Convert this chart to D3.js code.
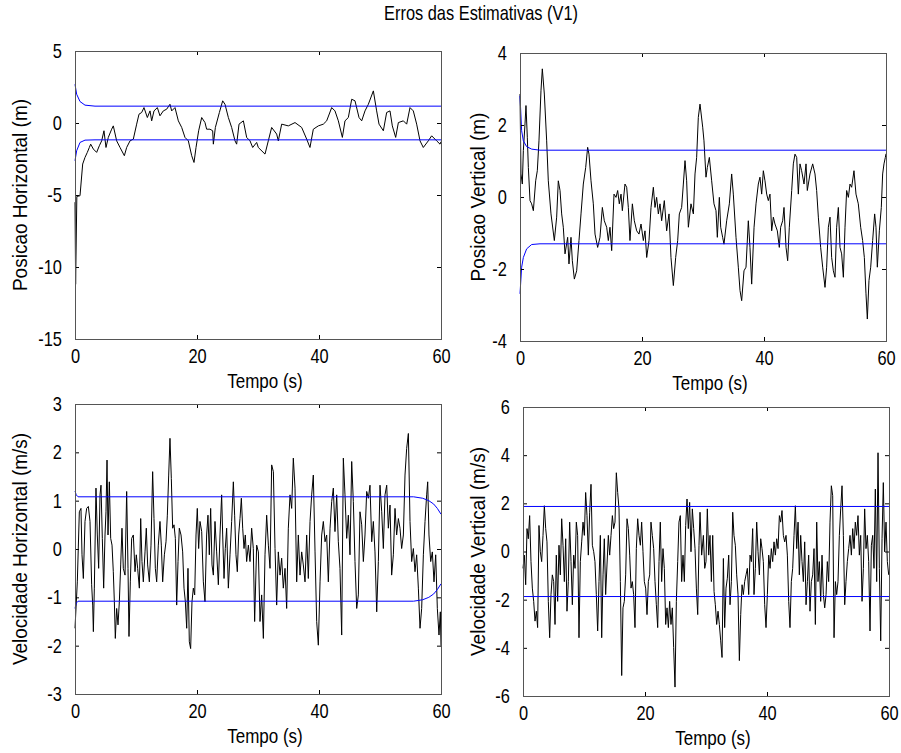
<!DOCTYPE html>
<html><head><meta charset="utf-8">
<script src="https://cdn.jsdelivr.net/npm/d3@7"></script>
<style>body{margin:0;background:#fff} svg{display:block}</style>
</head><body><svg id="c" width="901" height="753"></svg>
<script>
const chartTitle = "Erros das Estimativas (V1)";
const xLabel = "Tempo (s)";
const xTicks = [0, 20, 40, 60];
const yLabels = ["Posicao Horizontal (m)", "Posicao Vertical (m)", "Velocidade Horizontal (m/s)", "Velocidade Vertical (m/s)"];
const yTicksPosH = [-15, -10, -5, 0, 5];
const yTicksPosV = [-4, -2, 0, 2, 4];
const yTicksVelH = [-3, -2, -1, 0, 1, 2, 3];
const yTicksVelV = [-6, -4, -2, 0, 2, 4, 6];

// [time (s), error]
const posHoriz = [[0,-5.5],[0.1,-11.2],[0.3,-5.1],[0.82,-5.05],[1.26,-2.85],[1.64,-2.39],[2.02,-2.04],[2.35,-1.70],[2.57,-1.47],[3.01,-1.81],[3.55,-2.04],[3.99,-1.58],[4.37,-1.24],[4.75,-0.54],[5.08,-1.70],[5.46,-1.0],[6.01,-0.43],[6.28,-0.2],[6.83,-1.24],[7.38,-1.70],[8.09,-2.27],[8.47,-1.70],[9.02,-1.24],[9.56,-1.12],[10.11,-0.08],[10.49,0.61],[10.93,0.73],[11.31,1.07],[11.86,0.38],[12.30,0.84],[12.57,0.15],[12.95,0.84],[13.50,1.07],[13.93,0.50],[14.48,0.84],[15.03,0.96],[15.57,1.30],[15.85,0.84],[16.39,1.07],[16.94,0.15],[17.49,-0.31],[18.03,-1.0],[18.58,-1.24],[19.13,-2.27],[19.51,-2.74],[19.84,-1.70],[20.27,-0.54],[20.77,0.38],[21.31,0.03],[21.58,-0.43],[22.13,-0.43],[22.57,-0.54],[22.68,-1.47],[23.01,-0.31],[23.67,0.73],[24.21,1.54],[24.59,1.30],[25.14,0.38],[25.68,-0.31],[26.23,-1.24],[26.50,-1.47],[26.89,-0.08],[27.60,0.15],[28.14,-1.0],[28.69,-1.24],[29.13,-1.70],[29.78,-1.35],[30.05,-1.70],[31.15,-2.16],[31.69,-1.24],[32.24,-0.31],[33.06,-0.77],[33.33,-1.24],[33.88,-0.08],[34.97,-0.2],[36.07,0.03],[37.16,-0.31],[37.98,-1.12],[38.52,-1.70],[39.07,-0.43],[39.89,-0.2],[40.71,-0.08],[41.26,0.15],[42.08,1.07],[42.62,0.84],[43.17,0.15],[43.83,-1.0],[44.26,0.15],[44.81,0.38],[45.36,1.65],[45.90,1.54],[46.56,0.38],[47.00,0.15],[47.54,0.84],[48.09,1.30],[48.91,2.23],[49.45,0.84],[49.84,-0.08],[50.55,-0.54],[51.09,0.73],[51.64,0.84],[52.02,-0.2],[52.57,-1.0],[53.01,0.03],[53.83,0.15],[54.37,-0.08],[54.92,1.07],[55.46,0.84],[56.01,-0.08],[56.56,-1.24],[57.10,-1.70],[57.92,-1.24],[58.47,-0.89],[59.29,-1.24],[59.84,-1.47],[60,-1.3]];
const posHorizUpper = [[0,2.69],[0.27,2.0],[0.82,1.49],[1.64,1.24],[3.28,1.17],[60,1.17]];
const posHorizLower = [[0,-2.62],[0.27,-1.93],[0.82,-1.35],[1.64,-1.19],[3.28,-1.17],[60,-1.17]];

const posVert = [[0,2.86],[0.16,0.64],[0.38,0.36],[0.55,1.29],[0.82,2.03],[0.98,2.54],[1.20,1.66],[1.37,0.82],[1.64,-0.10],[1.91,-0.19],[2.19,-0.38],[2.57,0.45],[2.84,0.73],[3.11,1.56],[3.44,2.95],[3.66,3.56],[3.99,2.86],[4.37,1.56],[4.64,0.45],[5.08,-0.47],[5.63,-1.21],[6.01,-0.56],[6.28,0.45],[6.56,0.18],[6.83,-0.47],[7.10,-0.84],[7.38,-1.58],[7.81,-1.12],[8.03,-1.86],[8.36,-1.12],[8.58,-1.77],[8.91,-2.28],[9.29,-2.05],[9.67,-1.21],[10.0,-0.47],[10.38,0.36],[10.77,0.82],[11.09,1.38],[11.31,1.19],[11.64,0.45],[12.02,-0.19],[12.30,-1.03],[12.73,-1.40],[13.11,-1.12],[13.50,-0.29],[13.82,-0.66],[14.21,-0.84],[14.48,-1.21],[14.75,-0.84],[15.03,-1.49],[15.41,0.08],[15.74,-0.01],[16.01,0.18],[16.28,-0.19],[16.56,0.08],[16.78,-0.38],[17.21,0.36],[17.49,0.27],[17.76,-0.29],[18.03,-1.21],[18.42,-0.19],[18.74,-0.66],[19.13,-0.94],[19.51,-1.03],[19.84,-0.75],[20.22,-1.21],[20.49,-0.94],[20.77,-1.68],[21.15,-1.21],[21.48,-0.29],[21.86,0.27],[22.13,-0.29],[22.40,-0.01],[22.68,-0.47],[22.95,-0.19],[23.22,-0.66],[23.66,-0.10],[24.04,-0.94],[24.43,-0.47],[24.75,-1.68],[25.14,-2.46],[25.52,-1.68],[25.85,-1.21],[26.12,-0.47],[26.50,-0.29],[26.78,0.36],[27.05,1.01],[27.32,0.45],[27.60,-0.84],[28.03,-0.19],[28.42,-0.47],[28.69,0.64],[28.96,1.10],[29.23,2.21],[29.51,2.58],[29.95,1.94],[30.16,1.56],[30.49,0.55],[30.71,0.82],[31.04,1.10],[31.42,0.45],[31.80,-0.19],[32.13,-0.38],[32.35,-1.12],[32.68,-0.01],[32.90,-0.84],[33.22,-1.12],[33.44,-1.31],[33.88,-0.66],[34.32,-0.19],[34.70,0.64],[34.97,0.08],[35.41,-1.12],[35.79,-1.95],[36.07,-2.60],[36.34,-2.88],[36.72,-2.05],[37.05,-1.95],[37.43,-0.66],[37.70,-1.40],[37.98,-2.42],[38.37,-0.84],[38.69,-0.19],[39.07,0.36],[39.34,0.55],[39.62,0.08],[39.89,0.73],[40.16,0.45],[40.44,0.08],[40.71,-0.10],[40.98,0.08],[41.26,-0.94],[41.53,-0.56],[41.80,-0.75],[42.19,-0.94],[42.51,-1.40],[42.73,-0.84],[43.06,-0.66],[43.28,-0.29],[43.61,-1.40],[43.88,-1.77],[44.15,-0.84],[44.54,0.18],[44.81,0.92],[45.08,1.19],[45.36,1.10],[45.63,0.08],[45.90,0.92],[46.17,0.73],[46.56,0.36],[46.89,0.92],[47.10,0.18],[47.54,0.64],[47.98,0.92],[48.36,0.64],[48.63,0.18],[48.91,-0.56],[49.29,-1.40],[49.62,-1.95],[50.00,-2.51],[50.27,-1.95],[50.55,-0.84],[50.82,-0.56],[51.09,-1.68],[51.37,-2.05],[51.64,-2.23],[51.91,-0.84],[52.19,-0.29],[52.46,-1.40],[52.73,-1.58],[53.01,-2.23],[53.28,-0.84],[53.55,0.18],[53.83,-0.01],[54.10,0.36],[54.37,0.27],[54.75,0.73],[55.08,0.08],[55.46,-0.19],[55.85,-0.84],[56.17,-1.21],[56.45,-1.68],[56.72,-2.69],[56.94,-3.39],[57.21,-2.32],[57.49,-1.95],[57.81,-1.21],[58.14,-0.47],[58.36,-0.84],[58.58,-1.95],[58.91,-0.94],[59.23,-0.29],[59.45,0.64],[59.67,0.92],[59.89,1.10],[60,1.2]];
const posVertUpper = [[0,2.81],[0.27,1.84],[0.55,1.56],[1.09,1.40],[1.91,1.33],[3.28,1.30],[60,1.30]];
const posVertLower = [[0,-2.69],[0.27,-1.95],[0.55,-1.68],[1.09,-1.44],[1.91,-1.32],[3.28,-1.30],[60,-1.30]];

const velHoriz = [[0,-1.64],[0.38,-0.68],[0.71,0.77],[0.98,0.84],[1.15,-0.12],[1.37,-0.61],[1.64,0.57],[1.91,0.84],[2.19,0.88],[2.46,0.57],[2.73,-0.74],[2.90,-1.16],[3.01,-1.71],[3.17,-0.81],[3.44,1.26],[3.66,0.29],[3.88,-0.40],[4.10,1.12],[4.26,1.32],[4.48,0.22],[4.70,-0.81],[4.92,0.29],[5.08,0.77],[5.25,1.84],[5.41,0.29],[5.63,1.39],[5.85,0.22],[6.07,0.08],[6.28,-0.47],[6.45,-1.09],[6.61,-1.85],[6.83,-1.23],[7.05,-1.57],[7.27,-1.09],[7.49,-0.33],[7.70,0.43],[7.92,-0.40],[8.20,-0.54],[8.47,1.19],[8.69,-0.40],[8.85,-1.81],[9.07,-0.68],[9.29,0.22],[9.56,0.29],[9.84,-0.47],[10.05,-0.12],[10.27,-0.40],[10.55,-0.81],[10.77,0.63],[10.98,-0.26],[11.20,-0.68],[11.48,-0.06],[11.69,0.43],[11.91,-0.33],[12.19,-0.68],[12.46,0.08],[12.73,1.60],[12.95,0.63],[13.17,-0.40],[13.39,-0.68],[13.66,0.08],[13.93,0.57],[14.15,0.08],[14.37,-0.68],[14.65,-0.12],[14.92,0.15],[15.14,0.70],[15.36,1.53],[15.57,2.29],[15.79,1.46],[16.01,0.43],[16.23,0.50],[16.45,0.22],[16.67,-1.16],[16.89,-0.26],[17.10,0.43],[17.38,0.29],[17.65,-0.06],[17.87,-0.81],[18.09,-1.09],[18.31,-1.64],[18.52,-0.40],[18.74,-1.92],[18.96,-2.06],[19.18,-1.09],[19.40,-0.81],[19.62,-0.95],[19.84,0.29],[20.05,0.84],[20.27,0.01],[20.49,0.57],[20.77,0.36],[21.04,-0.68],[21.31,-1.09],[21.58,0.29],[21.80,0.70],[22.02,-0.12],[22.24,0.84],[22.46,-0.33],[22.68,-0.54],[22.95,0.57],[23.22,-0.06],[23.50,-0.74],[23.77,0.29],[24.04,1.12],[24.21,0.29],[24.43,-0.61],[24.64,0.01],[24.86,0.43],[25.14,-0.81],[25.41,-0.12],[25.68,0.57],[25.96,1.39],[26.17,0.70],[26.39,-0.12],[26.61,-0.47],[26.83,0.29],[27.05,0.63],[27.27,1.05],[27.49,0.43],[27.71,0.01],[27.92,0.29],[28.14,-0.26],[28.42,0.08],[28.69,-0.26],[28.96,0.43],[29.23,0.01],[29.45,-1.50],[29.78,0.08],[30.06,-0.06],[30.33,-1.50],[30.60,-0.95],[30.88,-1.85],[31.15,-0.12],[31.42,0.70],[31.70,0.08],[31.97,-0.40],[32.24,1.74],[32.52,1.60],[32.79,0.01],[33.06,-1.16],[33.33,-0.06],[33.61,-0.54],[33.88,-0.19],[34.15,-0.81],[34.43,-0.40],[34.70,-1.23],[34.97,0.43],[35.25,1.12],[35.52,0.84],[35.79,1.88],[36.07,1.26],[36.34,-0.68],[36.61,0.29],[36.89,-0.54],[37.16,-0.06],[37.43,-0.33],[37.71,-0.68],[37.98,0.29],[38.25,-0.61],[38.53,0.57],[38.80,1.12],[39.07,1.53],[39.35,-0.06],[39.62,-1.50],[39.89,-1.99],[40.17,-0.68],[40.44,0.29],[40.71,0.57],[40.99,0.15],[41.26,0.29],[41.53,-0.68],[41.81,0.43],[42.08,0.98],[42.35,1.26],[42.62,0.36],[42.90,1.12],[43.17,0.15],[43.44,-0.40],[43.72,-1.78],[43.99,1.88],[44.26,1.12],[44.54,0.22],[44.81,0.70],[45.08,-0.12],[45.36,1.81],[45.63,0.98],[45.90,-0.26],[46.18,-1.23],[46.45,-0.95],[46.72,0.77],[47.00,0.50],[47.27,-0.26],[47.54,0.29],[47.82,1.19],[48.09,1.05],[48.36,1.32],[48.64,0.15],[48.91,0.57],[49.18,-0.06],[49.46,-1.30],[49.73,-0.26],[50.00,1.32],[50.28,0.77],[50.55,0.01],[50.82,1.12],[51.10,1.32],[51.37,0.43],[51.64,0.91],[51.91,-0.54],[52.19,-0.12],[52.46,0.84],[52.73,0.29],[53.01,0.63],[53.28,0.43],[53.55,0.01],[53.83,0.29],[54.10,1.53],[54.37,2.08],[54.65,2.39],[54.92,0.57],[55.19,-0.26],[55.47,0.01],[55.74,-0.47],[56.01,-0.12],[56.29,-0.81],[56.56,-1.64],[56.83,-1.23],[57.11,-0.12],[57.38,0.57],[57.65,1.12],[57.82,1.39],[58.03,0.29],[58.31,-0.26],[58.58,-0.06],[58.85,-0.68],[59.13,-0.12],[59.40,-1.23],[59.67,-1.78],[59.89,-1.30],[60,-2.0]];
const velHorizUpper = [[0,1.20],[0.2,1.12],[0.5,1.08],[55.5,1.08],[57,1.05],[58,1.0],[58.8,0.93],[59.4,0.84],[60,0.72]];
const velHorizLower = [[0,-1.23],[0.2,-1.12],[0.5,-1.08],[55.5,-1.08],[57,-1.05],[58,-1.0],[58.8,-0.93],[59.4,-0.84],[60,-0.72]];

const velVert = [[0,-0.70],[0.22,-0.15],[0.44,-1.38],[0.66,0.95],[0.87,0.53],[1.09,1.49],[1.31,-0.42],[1.53,-1.52],[1.75,-2.07],[1.97,-2.89],[2.19,-2.48],[2.40,-3.16],[2.62,1.08],[2.84,-0.01],[3.06,-0.42],[3.28,0.67],[3.50,1.90],[3.72,0.95],[3.93,0.40],[4.15,-2.07],[4.37,-3.58],[4.59,-1.79],[4.81,-0.97],[5.03,-1.25],[5.25,-3.03],[5.46,-0.15],[5.68,-2.07],[5.90,0.26],[6.12,-0.97],[6.34,1.36],[6.56,0.26],[6.78,-1.25],[7.00,0.53],[7.21,-2.48],[7.43,-1.25],[7.65,1.22],[7.87,-0.42],[8.09,-2.21],[8.31,-0.15],[8.53,-0.70],[8.74,1.22],[8.96,0.67],[9.18,-3.58],[9.40,-0.42],[9.62,0.40],[9.84,1.22],[10.06,0.67],[10.27,2.45],[10.49,1.49],[10.71,-0.15],[10.93,1.63],[11.15,2.79],[11.37,0.26],[11.59,-0.01],[11.80,-0.42],[12.02,-1.79],[12.24,-3.30],[12.46,-1.25],[12.68,0.67],[12.90,-3.58],[13.12,-0.97],[13.33,0.53],[13.55,-1.79],[13.77,-0.56],[13.99,0.67],[14.21,-0.15],[14.43,0.67],[14.65,1.49],[14.86,0.95],[15.08,1.22],[15.30,3.27],[15.52,2.45],[15.74,1.77],[15.96,-1.25],[16.18,-5.15],[16.39,-2.34],[16.61,-2.07],[16.83,-0.97],[17.05,1.36],[17.27,0.95],[17.49,-0.15],[17.71,-1.52],[17.92,-1.25],[18.14,-1.79],[18.36,-3.16],[18.58,0.12],[18.80,1.36],[19.02,0.67],[19.24,0.26],[19.45,1.22],[19.67,-0.01],[19.89,-1.25],[20.11,-1.52],[20.33,-2.62],[20.55,-1.25],[20.77,-0.97],[20.98,1.22],[21.20,0.67],[21.42,0.12],[21.64,-1.25],[21.86,-2.21],[22.08,-3.16],[22.30,-0.42],[22.51,1.22],[22.73,-1.25],[22.95,0.12],[23.17,-0.70],[23.39,-3.03],[23.61,-2.34],[23.83,-3.16],[24.04,-2.07],[24.26,-3.03],[24.48,-2.34],[24.70,-3.99],[24.92,-5.63],[25.14,-2.07],[25.36,-0.42],[25.57,1.22],[25.79,1.49],[26.01,-1.25],[26.23,-0.15],[26.45,-1.25],[26.67,1.08],[26.89,2.18],[27.10,0.95],[27.32,2.04],[27.54,-0.01],[27.76,1.77],[27.98,0.95],[28.20,0.12],[28.42,-1.52],[28.64,-2.62],[28.85,0.26],[29.02,1.63],[29.29,-0.15],[29.57,0.67],[29.79,-0.70],[30.00,-0.42],[30.22,1.77],[30.44,-0.15],[30.66,0.67],[30.88,-1.25],[31.10,0.67],[31.32,-1.66],[31.53,-2.21],[31.75,-3.03],[31.97,-2.48],[32.19,-3.03],[32.41,-3.71],[32.63,-4.40],[32.85,-0.29],[33.06,-3.16],[33.28,-1.52],[33.50,-1.11],[33.72,-0.15],[33.94,-2.21],[34.16,-1.25],[34.38,1.63],[34.59,0.67],[34.81,0.26],[35.03,-0.97],[35.25,-1.79],[35.47,-4.53],[35.69,-2.62],[35.91,-1.38],[36.12,-1.79],[36.34,-1.25],[36.56,-0.97],[36.78,-0.70],[37.00,-1.79],[37.22,-0.15],[37.44,-0.42],[37.65,0.95],[37.87,-1.79],[38.09,-0.70],[38.31,1.22],[38.53,-0.01],[38.75,-0.97],[38.97,0.53],[39.18,0.12],[39.40,-0.42],[39.62,-2.21],[39.84,-3.16],[40.06,-1.79],[40.28,-0.15],[40.50,-0.70],[40.71,0.12],[40.93,-0.42],[41.15,0.40],[41.37,-0.15],[41.59,0.53],[41.81,0.12],[42.03,1.49],[42.24,1.22],[42.46,1.70],[42.68,0.67],[42.90,0.40],[43.12,0.67],[43.34,-0.15],[43.56,-2.07],[43.77,-3.16],[43.99,-1.25],[44.21,-0.70],[44.43,0.67],[44.65,1.90],[44.87,0.12],[45.09,1.22],[45.30,-0.97],[45.52,0.67],[45.74,-0.42],[45.96,-1.25],[46.18,0.40],[46.40,-2.21],[46.62,-1.25],[46.83,-0.15],[47.05,-2.48],[47.27,-1.25],[47.49,-0.97],[47.71,0.12],[47.93,-3.03],[48.15,1.22],[48.36,-1.25],[48.58,-0.42],[48.80,-2.07],[49.02,-0.15],[49.24,-1.79],[49.46,-2.34],[49.68,-1.79],[49.89,-0.42],[50.11,-1.25],[50.33,1.22],[50.55,2.73],[50.77,2.32],[50.99,-3.58],[51.21,-1.25],[51.42,-1.79],[51.64,-1.25],[51.86,0.67],[52.08,1.77],[52.30,2.73],[52.52,0.67],[52.74,-2.21],[52.95,-1.25],[53.17,-0.42],[53.39,0.12],[53.61,0.67],[53.83,-0.15],[54.05,0.95],[54.27,0.12],[54.48,1.22],[54.70,0.67],[54.92,1.49],[55.14,-0.15],[55.36,0.67],[55.58,-2.07],[55.80,-0.70],[56.01,1.77],[56.23,0.12],[56.45,0.67],[56.67,-0.42],[56.89,-3.30],[57.11,0.26],[57.33,0.67],[57.54,-0.70],[57.76,2.59],[57.98,-1.25],[58.20,4.10],[58.42,-0.70],[58.64,-3.71],[58.86,0.53],[59.07,2.86],[59.29,-0.01],[59.51,1.22],[59.73,-0.42],[59.95,-0.97]];
const velVertUpper = [[0,1.87],[60,1.87]];
const velVertLower = [[0,-1.87],[60,-1.87]];

const FONT = "'Liberation Sans', Arial, sans-serif";
const FS = 20, SX = 0.82, SXY = 0.95;
const svg = d3.select("#c");

const panels = [
  {data: posHoriz, up: posHorizUpper, lo: posHorizLower, yDom: [-15, 5], yTicks: yTicksPosH, label: yLabels[0], box: [75, 51, 441, 339], labX: 27, xLabY: 388},
  {data: posVert, up: posVertUpper, lo: posVertLower, yDom: [-4, 4], yTicks: yTicksPosV, label: yLabels[1], box: [520, 53, 886, 341], labX: 485, xLabY: 390},
  {data: velHoriz, up: velHorizUpper, lo: velHorizLower, yDom: [-3, 3], yTicks: yTicksVelH, label: yLabels[2], box: [75, 404, 441, 694], labX: 27, xLabY: 743},
  {data: velVert, up: velVertUpper, lo: velVertLower, yDom: [-6, 6], yTicks: yTicksVelV, label: yLabels[3], box: [523, 407, 889, 696], labX: 485, xLabY: 745}
];

function label(str, x, y, rot, sx) {
  svg.append("text")
    .attr("transform", `translate(${x},${y})${rot ? " rotate(-90)" : ""} scale(${sx},1)`)
    .attr("text-anchor", "middle")
    .attr("font-family", FONT).attr("font-size", FS).attr("fill", "#000")
    .text(str);
}
const fmt = d => String(d);

label(chartTitle, 481, 20, false, SX);

panels.forEach(p => {
  const [x0, y0, x1, y1] = p.box;
  const x = d3.scaleLinear().domain([0, 60]).range([x0, x1]);
  const y = d3.scaleLinear().domain(p.yDom).range([y1, y0]);
  const g = svg.append("g");
  const line = d3.line().x(d => x(d[0])).y(d => y(d[1]));

  g.append("path").datum(p.data).attr("d", line)
    .attr("fill", "none").attr("stroke", "#000").attr("stroke-width", 1);
  [p.up, p.lo].forEach(b => g.append("path").datum(b).attr("d", line)
    .attr("fill", "none").attr("stroke", "#0000ff").attr("stroke-width", 1));

  const style = sel => {
    sel.select(".domain").remove();
    sel.attr("font-family", FONT).attr("font-size", FS);
    sel.selectAll(".tick line").attr("stroke", "#000");
    sel.selectAll(".tick text").attr("fill", "#000").attr("transform", `scale(${SX},1)`);
  };
  g.append("g").attr("transform", `translate(0,${y1})`)
    .call(d3.axisBottom(x).tickValues(xTicks).tickSize(-4).tickPadding(10).tickFormat(fmt)).call(style);
  g.append("g").attr("transform", `translate(0,${y0})`)
    .call(d3.axisTop(x).tickValues(xTicks).tickSize(-4).tickFormat("")).call(style);
  g.append("g").attr("transform", `translate(${x0},0)`)
    .call(d3.axisLeft(y).tickValues(p.yTicks).tickSize(-4).tickPadding(16).tickFormat(fmt)).call(style);
  g.append("g").attr("transform", `translate(${x1},0)`)
    .call(d3.axisRight(y).tickValues(p.yTicks).tickSize(-4).tickFormat("")).call(style);

  g.append("rect").attr("x", x0 + 0.5).attr("y", y0 + 0.5)
    .attr("width", x1 - x0).attr("height", y1 - y0)
    .attr("fill", "none").attr("stroke", "#555").attr("stroke-width", 1);

  label(xLabel, (x0 + x1) / 2 + 7, p.xLabY, false, 0.85);
  label(p.label, p.labX, (y0 + y1) / 2, true, SXY);
});
</script>
</body></html>
